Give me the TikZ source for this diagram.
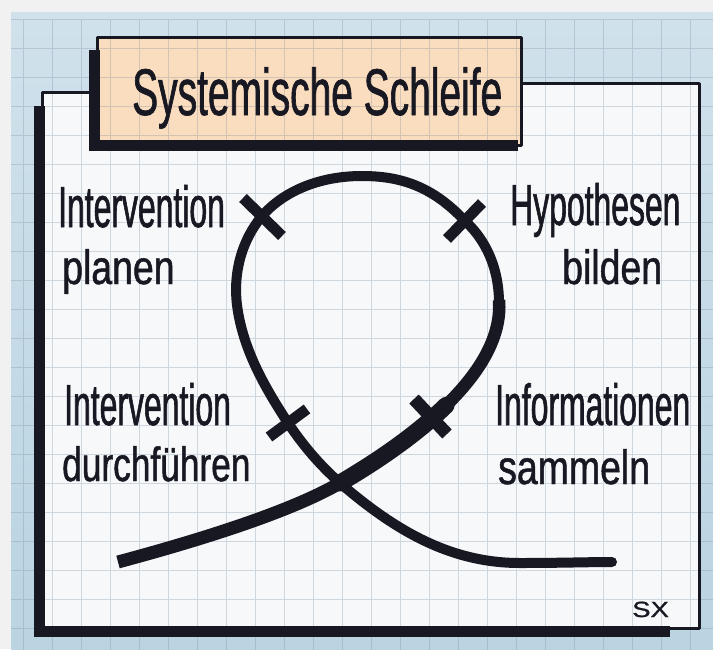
\documentclass[tikz,border=0pt]{standalone}
\usepackage{fontspec}
\newfontfamily\handA[FakeStretch=0.55,FakeBold=1]{Liberation Sans}
\newfontfamily\handB[FakeStretch=0.78,FakeBold=1]{Liberation Sans}
\newfontfamily\handC[FakeStretch=0.735,FakeBold=1]{Liberation Sans}
\newfontfamily\handT[FakeStretch=0.59,FakeBold=1]{Liberation Sans}
\newfontfamily\handS[FakeStretch=1.25,FakeBold=1]{Liberation Sans}
\definecolor{ink}{RGB}{24,24,34}
\definecolor{frame}{RGB}{241,241,241}
\definecolor{bluetop}{RGB}{208,225,235}
\definecolor{bluebot}{RGB}{186,212,226}
\definecolor{sheet}{RGB}{246,248,249}
\definecolor{peach}{RGB}{250,220,190}
\definecolor{gridc}{RGB}{120,140,160}
\tikzset{
  lab/.style={anchor=base west, inner sep=0pt, text=ink, font=\handA\fontsize{58}{62}\selectfont},
  labB/.style={lab, font=\handB\fontsize{48}{52}\selectfont},
  labC/.style={lab, font=\handC\fontsize{48}{52}\selectfont},
  thin border/.style={draw=ink, line width=3pt, line join=round},
  shadowband/.style={draw=ink, line width=11pt},
  loopline/.style={draw=ink, line cap=round, line join=round},
  tickmark/.style={draw=ink, line width=11pt, line cap=butt},
}
\begin{document}
\begin{tikzpicture}[x=1pt,y=-1pt]
\useasboundingbox (0,0) rectangle (713,649);
% outer frame and photo background
\fill[frame] (0,0) rectangle (713,649);
\shade[top color=bluetop, bottom color=bluebot] (11,12) rectangle (713,649);
% sheet
\fill[sheet] (42,92) -- (100,92) -- (100,83) -- (699,83) -- (699,628) -- (42,628) -- cycle;
% title box fill
\fill[peach] (97,37) rectangle (521,145);
% grid
\begin{scope}
\clip (11,12) rectangle (713,649);
\draw[gridc, opacity=0.3, line width=0.9pt, xshift=-6pt, yshift=-19pt]
  (0,0) grid[step=29pt] (740,680);
\end{scope}
% sheet border
\draw[thin border] (42,110) -- (42,92) -- (97,92);
\draw[thin border] (521,83) -- (699,83) -- (699,628) -- (670,628);
\draw[shadowband] (39,106) -- (39,631) -- (670,631);
% title border
\draw[thin border] (97,50) -- (97,37) -- (521,37) -- (521,145) -- (510,145);
\draw[shadowband] (94,50) -- (94,145) -- (518,145);
% loop coordinates
\coordinate (L) at (118,562);
\coordinate (X) at (340,483);
\coordinate (M) at (446.1,405.4);
\coordinate (RW) at (499,300);
\coordinate (T2) at (464,220);
\coordinate (TOP) at (362,176);
\coordinate (T1) at (262,216);
\coordinate (LW) at (237,305);
\coordinate (T3) at (288,423);
\coordinate (E) at (612,562);
% loop
\draw[loopline, line width=10pt]
  (X) .. controls (405,445) and (505,375) .. (RW)
      .. controls (498,262) and (482,236) .. (T2)
      .. controls (432,186) and (400,176) .. (TOP)
      .. controls (318,176) and (283,192) .. (T1)
      .. controls (242,240) and (233,272) .. (LW)
      .. controls (243,352) and (268,392) .. (T3)
      .. controls (305,448) and (320,465) .. (X)
      .. controls (400,535) and (455,563) .. (520,563)
      .. controls (560,563) and (590,562) .. (E);
\draw[draw=ink, line width=13pt, line cap=butt] (L) .. controls (200,540) and (290,512) .. (X);
\draw[draw=ink, line width=12.5pt, line cap=butt] (M) .. controls (478.5,373.75) and (502,337.5) .. (RW);
\draw[draw=ink, line width=17pt, line cap=round] (X) .. controls (372.5,464) and (413.75,437) .. (M);
% tick marks
\draw[tickmark] (243,198) -- (282,236);
\draw[tickmark] (482,203) -- (447,239);
\draw[tickmark] (307,409) -- (269,437);
\draw[tickmark, line width=13pt] (414,399) -- (447,434);
% title and labels
\node[anchor=base west, inner sep=0pt, text=ink, font=\handT\fontsize{66}{70}\selectfont] (title) at (132,115) {Systemische Schleife};
\node[lab] (ip1) at (58,227) {Intervention};
\node[labB] (ip2) at (62,284) {planen};
\node[lab] (id1) at (64,425) {Intervention};
\node[labC] (id2) at (62,481) {durchführen};
\node[lab] (hb1) at (510,225) {Hypothesen};
\node[labB] (hb2) at (562,284) {bilden};
\node[lab] (is1) at (495,425) {Informationen};
\node[labB] (is2) at (498,484) {sammeln};
\node[anchor=base west, inner sep=0pt, text=ink, font=\handS\fontsize{22}{24}\selectfont] (sx) at (632,617) {SX};
\end{tikzpicture}
\end{document}
